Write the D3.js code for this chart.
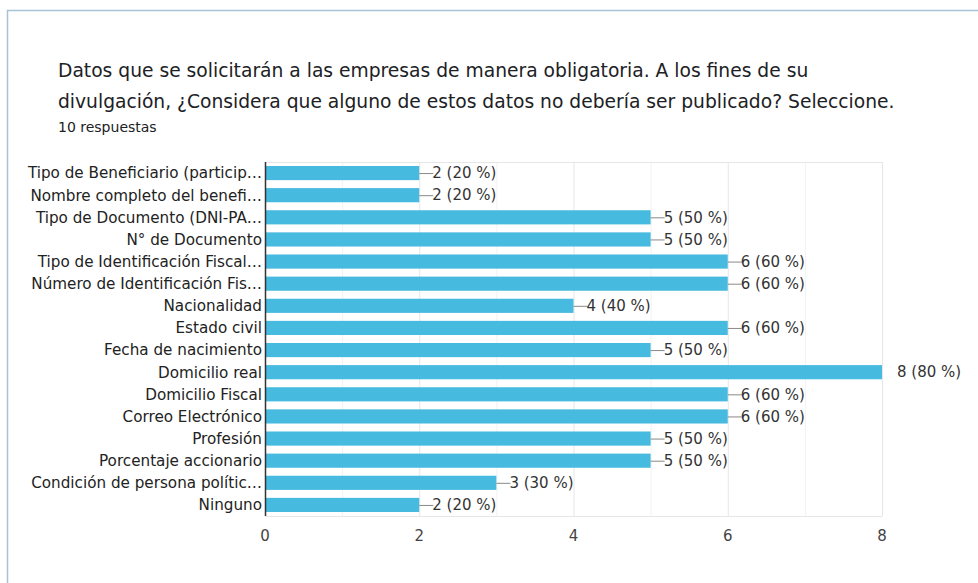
<!DOCTYPE html>
<meta charset="utf-8">
<style>
  body { margin: 0; background: #fff; }
  svg { font-family: "DejaVu Sans", Arial, sans-serif; }
  .grid line { stroke: #e6e6e6; stroke-width: 1px; }
  .grid .minor { stroke: #f2f2f2; }
  .cat text { fill: #222; font-size: 15.2px; }
  .val text { fill: #333; font-size: 15px; }
  .xaxis text { fill: #444; font-size: 15px; }
</style>
<svg width="978" height="583"></svg>
<script src="https://d3js.org/d3.v7.min.js"></script>
<script>
  var categories = [
    "Tipo de Beneficiario (particip…",
    "Nombre completo del benefi…",
    "Tipo de Documento (DNI-PA…",
    "N° de Documento",
    "Tipo de Identificación Fiscal…",
    "Número de Identificación Fis…",
    "Nacionalidad",
    "Estado civil",
    "Fecha de nacimiento",
    "Domicilio real",
    "Domicilio Fiscal",
    "Correo Electrónico",
    "Profesión",
    "Porcentaje accionario",
    "Condición de persona polític…",
    "Ninguno"
  ];
  var counts = [2, 2, 5, 5, 6, 6, 4, 6, 5, 8, 6, 6, 5, 5, 3, 2];
  var total = 10;
  var xTicks = [0, 2, 4, 6, 8];
  var titleLines = [
    "Datos que se solicitarán a las empresas de manera obligatoria. A los fines de su",
    "divulgación, ¿Considera que alguno de estos datos no debería ser publicado? Seleccione."
  ];
  var subtitle = "10 respuestas";

  var svg = d3.select("svg");

  // card border
  svg.append("path")
    .attr("d", "M7.5,583 V10.5 H978")
    .attr("fill", "none")
    .attr("stroke", "#a8c3d6")
    .attr("stroke-width", 1.5);

  svg.selectAll(".title")
    .data(titleLines)
    .enter().append("text")
    .attr("x", 58)
    .attr("y", function(d, i) { return 77 + i * 31; })
    .attr("fill", "#202124")
    .style("font-size", "18.7px")
    .text(function(d) { return d; });

  svg.append("text")
    .attr("x", 58)
    .attr("y", 132)
    .attr("fill", "#202124")
    .style("font-size", "14px")
    .text(subtitle);

  var plotL = 265, plotR = 882, plotT = 162, plotB = 516;

  var x = d3.scaleLinear().domain([0, 8]).range([plotL, plotR]);
  var y = d3.scaleBand().domain(categories).range([plotT, plotB]).paddingInner(0.36).paddingOuter(0.18);

  var grid = svg.append("g").attr("class", "grid");
  grid.selectAll("line")
    .data(d3.range(0, 9))
    .enter().append("line")
    .attr("class", function(d) { return d % 2 ? "minor" : "major"; })
    .attr("x1", function(d) { return x(d) + 0.5; })
    .attr("x2", function(d) { return x(d) + 0.5; })
    .attr("y1", plotT)
    .attr("y2", plotB);
  grid.append("line")
    .attr("x1", plotL).attr("x2", plotR)
    .attr("y1", plotT + 0.5).attr("y2", plotT + 0.5);
  grid.append("line")
    .attr("x1", plotL).attr("x2", plotR)
    .attr("y1", plotB + 0.5).attr("y2", plotB + 0.5);

  svg.append("g").selectAll("rect")
    .data(counts)
    .enter().append("rect")
    .attr("x", x(0))
    .attr("y", function(d, i) { return y(categories[i]); })
    .attr("width", function(d) { return x(d) - x(0); })
    .attr("height", y.bandwidth())
    .attr("fill", "#47badf");

  // zero axis line
  svg.append("line")
    .attr("x1", x(0) + 0.5).attr("x2", x(0) + 0.5)
    .attr("y1", plotT).attr("y2", plotB)
    .attr("stroke", "#333").attr("stroke-width", 1.5);

  svg.append("g").attr("class", "cat")
    .selectAll("text")
    .data(categories)
    .enter().append("text")
    .attr("x", plotL - 3)
    .attr("y", function(d) { return y(d) + y.bandwidth() / 2; })
    .attr("dy", "0.35em")
    .attr("text-anchor", "end")
    .text(function(d) { return d; });

  var val = svg.append("g").attr("class", "val");
  counts.forEach(function(d, i) {
    var cy = y(categories[i]) + y.bandwidth() / 2;
    var xe = x(d);
    var label = d + " (" + Math.round(d / total * 100) + " %)";
    if (d < 8) {
      val.append("line")
        .attr("x1", xe).attr("x2", xe + 14)
        .attr("y1", cy + 0.5).attr("y2", cy + 0.5)
        .attr("stroke", "#888").attr("stroke-width", 1);
      val.append("text")
        .attr("x", xe + 13)
        .attr("y", cy).attr("dy", "0.35em")
        .text(label);
    } else {
      val.append("text")
        .attr("x", xe + 15)
        .attr("y", cy).attr("dy", "0.35em")
        .text(label);
    }
  });

  var xAxis = svg.append("g").attr("class", "xaxis");
  xAxis.selectAll("text")
    .data(xTicks)
    .enter().append("text")
    .attr("x", function(d) { return x(d); })
    .attr("y", 541)
    .attr("text-anchor", "middle")
    .text(function(d) { return d; });
</script>
